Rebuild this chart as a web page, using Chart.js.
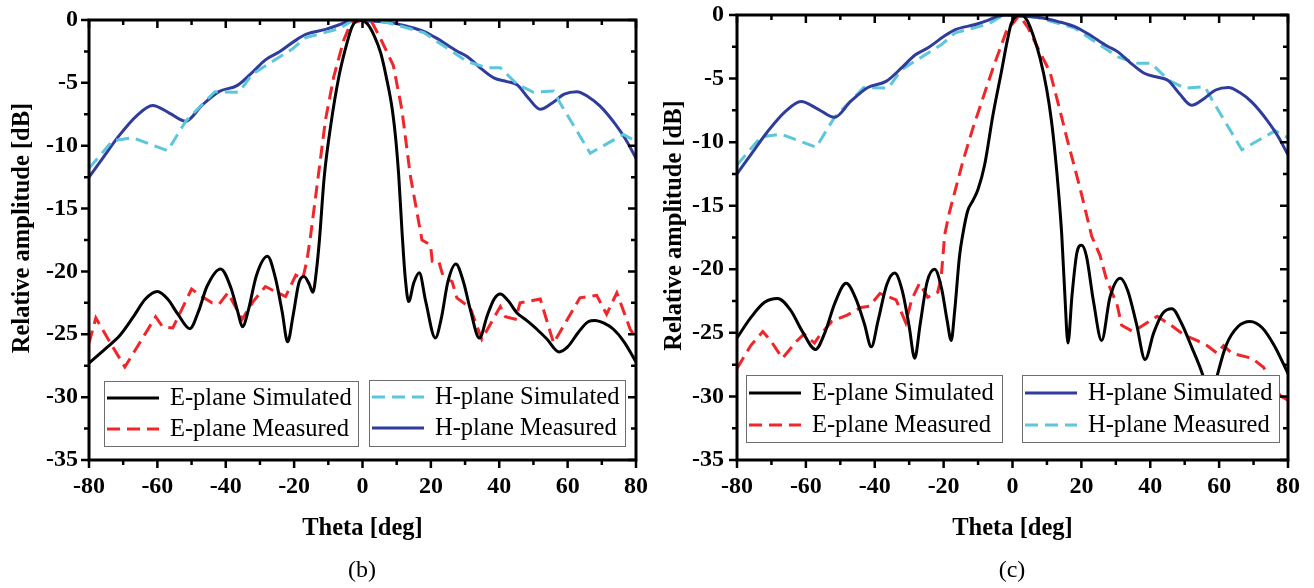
<!DOCTYPE html>
<html>
<head>
<meta charset="utf-8">
<title>E-plane / H-plane radiation patterns</title>
<script src="https://cdn.jsdelivr.net/npm/chart.js@4.4.0/dist/chart.umd.min.js"></script>
<style>
	html, body { margin: 0; padding: 0; background: #fff; }
	#page { position: relative; width: 1314px; height: 588px; overflow: hidden; }
	.panel { position: absolute; top: 0; width: 657px; height: 588px; }
	.caption { position: absolute; top: 555px; width: 60px; line-height: 28px; text-align: center;
		font-family: "Liberation Serif", "Times New Roman", serif; font-size: 24px; color: #000; }
</style>
</head>
<body>
<div id="page">
	<div class="panel" style="left:0"><canvas id="chartB"></canvas></div>
	<div class="panel" style="left:657px"><canvas id="chartC"></canvas></div>
	<div class="caption" style="left:332px">(b)</div>
	<div class="caption" style="left:982px">(c)</div>
</div>
<script>
// dane: [theta (deg), amplituda (dB)]

const thetaTicks = [-80, -60, -40, -20, 0, 20, 40, 60, 80];
const dbTicks = [0, -5, -10, -15, -20, -25, -30, -35];

// (b) E-plane symulacja
const eSimB = [[-80,-27.3],[-75,-26.1],[-71,-25.1],[-67,-23.6],[-63.5,-22.2],[-60,-21.6],[-57,-22.2],[-54,-23.4],[-50.5,-24.55],[-48,-23.2],[-45.5,-21.2],[-41.5,-19.8],[-38.5,-21.3],[-36.5,-23.2],[-35.1,-24.4],[-33.5,-23.2],[-31,-20.3],[-27.8,-18.8],[-25.5,-20.5],[-23.5,-23.2],[-21.9,-25.6],[-20.3,-23.5],[-18.6,-20.9],[-17.1,-20.4],[-15.6,-21.0],[-14.5,-21.65],[-13.5,-20],[-12.6,-17.5],[-11.2,-12.5],[-9.3,-8.4],[-6.9,-4.5],[-5,-2.3],[-3,-0.5],[-0.8,0],[1.4,-0.3],[3.5,-1.3],[5.3,-2.6],[7,-4.6],[8.7,-7.1],[9.8,-9.7],[10.6,-12.4],[11.6,-17],[12.5,-20.5],[13.5,-22.4],[15,-20.9],[16.6,-20.1],[18.5,-22.4],[21.3,-25.3],[23,-23.8],[25,-20.8],[27.3,-19.4],[29.5,-20.8],[31.5,-23],[34.2,-25.3],[36.5,-23.5],[38.5,-22.2],[40.3,-21.8],[42.5,-22.3],[45.2,-23.3],[48,-23.9],[51,-24.6],[54,-25.4],[57.5,-26.4],[60,-26.0],[63,-24.9],[66,-24.0],[68,-23.9],[70.5,-24.1],[73.4,-24.6],[76.5,-25.6],[80,-27.2]];
// (b) E-plane pomiar
const eMeasB = [[-80,-25.7],[-78,-23.7],[-73.5,-25.8],[-69.5,-27.6],[-60.5,-23.6],[-58.5,-24.4],[-55.5,-24.5],[-50,-21.4],[-47,-22.0],[-44,-22.5],[-41.9,-22.6],[-39.4,-21.7],[-35.2,-23.8],[-32,-22.4],[-28.4,-21.2],[-24.8,-21.7],[-22.5,-22.0],[-19.5,-20.3],[-17.5,-20.6],[-16.3,-19.2],[-15.2,-17.2],[-12.7,-11.9],[-10.8,-7.9],[-8.4,-4.5],[-5.5,-1.6],[-3.5,-0.3],[0,0],[2.8,-0.2],[5.3,-1.5],[9,-3.6],[11.5,-7.1],[14,-12.4],[17.4,-17.5],[19.9,-17.9],[20.4,-19.2],[22.3,-19.2],[23.7,-20.5],[26.2,-20.8],[27.6,-22.1],[31.5,-22.9],[34.9,-25.4],[40.3,-22.8],[41.8,-23.6],[44.7,-23.8],[46.1,-22.5],[52,-22.2],[55.9,-25.7],[63.6,-22.1],[68.5,-21.9],[71.4,-23.4],[74.4,-21.7],[78.3,-24.6],[80,-25.3]];
// (c) E-plane symulacja
const eSimC = [[-80,-25.4],[-76,-23.8],[-72,-22.6],[-68.2,-22.3],[-64.5,-23.2],[-61,-24.9],[-57.2,-26.3],[-54.5,-25.0],[-51.5,-22.6],[-48.3,-21.1],[-45.5,-22.3],[-43,-24.3],[-41,-26.1],[-39,-24],[-36.5,-21.2],[-34.2,-20.3],[-32,-21.7],[-30,-24.5],[-28.4,-27.0],[-26.8,-24.3],[-24.8,-21.0],[-22.6,-20.0],[-20.6,-21.5],[-19,-24],[-17.8,-25.6],[-16.8,-23.3],[-15.4,-19.0],[-14.4,-17.2],[-13,-15.4],[-11.5,-14.6],[-10,-13.7],[-8.1,-11.8],[-5.7,-7.9],[-3.25,-4.5],[-1.5,-2.0],[-0.35,-0.65],[1,-0.1],[2.5,0],[4.3,-0.45],[6,-1.6],[8,-3.4],[9.9,-5.8],[11.3,-8.3],[12.4,-11],[13.4,-14],[14.3,-17.3],[15.2,-22],[16.1,-25.8],[17.3,-22],[18.7,-18.7],[20.1,-18.1],[21.5,-19],[23.5,-22.5],[25.9,-25.6],[28.3,-22.2],[31.3,-20.7],[33.5,-21.7],[36,-24.3],[38.5,-27.1],[41,-25],[43.5,-23.5],[46.3,-23.1],[49,-24.2],[52,-26.1],[55.4,-28.45],[57.4,-30.5],[59.4,-28.4],[62,-26],[65.5,-24.5],[69,-24.1],[72.5,-24.6],[76,-26],[80,-28.2]];
// (c) E-plane pomiar
const eMeasC = [[-80,-27.8],[-76,-26.0],[-72.5,-24.9],[-70,-25.7],[-66.8,-27.0],[-62.5,-25.6],[-60.5,-25.1],[-57.5,-25.8],[-56,-25.2],[-52.5,-24.1],[-48,-23.6],[-44,-23.0],[-41.5,-22.9],[-38.5,-21.9],[-33.8,-22.4],[-31,-24.2],[-29.3,-22.4],[-27,-21.1],[-24.6,-22.2],[-21.7,-21.8],[-20.7,-20.6],[-19.7,-17.3],[-18.3,-15.5],[-14.4,-11.5],[-11.5,-8.9],[-5.7,-4.2],[-1.8,-1.3],[2,0],[4.5,-1.0],[7,-2.4],[10.9,-4.5],[13.5,-7.2],[15.8,-9.7],[19.6,-13.6],[23,-17.4],[25.4,-18.9],[27.4,-20.9],[30.3,-22.7],[31.7,-24.4],[35,-24.9],[38.5,-24.3],[42,-23.7],[46,-24.4],[50,-25.2],[53.5,-25.6],[56.5,-26.0],[59.4,-26.6],[61.3,-26.0],[63.7,-26.6],[69.5,-27.0],[72.9,-27.7],[76,-29.3],[78,-30.0],[80,-30.3]];
// H-plane, linia ciągła (granatowa) - ta sama w (b) i (c)
const hSolid = [[-80,-12.5],[-75.5,-10.8],[-71.2,-9.2],[-66,-7.6],[-61.4,-6.8],[-56.5,-7.4],[-51.7,-8.05],[-47,-6.8],[-42,-5.7],[-36.6,-5.2],[-32,-4.1],[-28.3,-3.15],[-24.4,-2.55],[-20,-1.7],[-16.6,-1.15],[-10.8,-0.75],[-7,-0.4],[-4,-0.08],[-1,0],[1.4,-0.08],[5,-0.12],[9.1,-0.25],[13,-0.5],[17.9,-0.9],[22,-1.5],[27.6,-2.46],[30.6,-2.9],[34,-3.7],[38.4,-4.6],[42.2,-4.9],[45.2,-5.15],[48.5,-6.2],[52,-7.1],[55.5,-6.6],[59,-5.9],[62.7,-5.7],[66,-6.1],[69.5,-6.85],[74,-8.3],[77,-9.5],[80,-11.0]];
// H-plane, linia przerywana (błękitna) - ta sama w (b) i (c)
const hDashed = [[-80,-11.8],[-73.1,-9.6],[-67.2,-9.37],[-57,-10.4],[-51.7,-8.05],[-43.2,-5.7],[-36.1,-5.75],[-32.2,-4.3],[-20.5,-2.3],[-16.6,-1.4],[-6.9,-0.7],[-3,-0.05],[0,0],[7.2,-0.2],[17.9,-1.0],[30.6,-3.3],[36.4,-3.8],[40.3,-3.8],[45.2,-5.1],[50,-5.75],[55.9,-5.65],[57.8,-6.6],[66.6,-10.6],[76.3,-9.1],[80,-9.65]];

const SERIF = '"Liberation Serif", "Times New Roman", serif';
const colors = { black: '#000000', red: '#f0262b', cyan: '#5cc6da', blue: '#2f3c9c' };

function pts (arr) {
	return arr.map(p => ({ x: p[0], y: p[1] }));
}
function solid (label, arr, color) {
	return { label: label, data: pts(arr), borderColor: color, borderWidth: 3, cubicInterpolationMode: 'monotone', pointRadius: 0 };
}
function dashed (label, arr, color) {
	return { label: label, data: pts(arr), borderColor: color, borderWidth: 3, borderDash: [13, 7], tension: 0, pointRadius: 0 };
}

// legenda w ramkach + ramka wykresu z podziałką + tytuł osi Y
const framePlugin = {
	id: 'frameLegend',
	afterDatasetsDraw (chart, args, opts) {
		const { ctx, chartArea: a, scales: { x, y } } = chart;
		ctx.save();
		opts.boxes.forEach(b => {
			const bx = a.left + b.x, by = a.top + b.y;
			ctx.fillStyle = '#fff';
			ctx.fillRect(bx, by, b.w, b.h);
			ctx.strokeStyle = '#6e6e6e';
			ctx.lineWidth = 1;
			ctx.strokeRect(Math.round(bx) + 0.5, Math.round(by) + 0.5, b.w, b.h);
			b.items.forEach((di, i) => {
				const ds = chart.data.datasets[di];
				const ry = by + opts.rowY[i];
				ctx.beginPath();
				ctx.setLineDash(ds.borderDash || []);
				ctx.strokeStyle = ds.borderColor;
				ctx.lineWidth = ds.borderWidth;
				ctx.moveTo(bx + 3, ry);
				ctx.lineTo(bx + 55, ry);
				ctx.stroke();
				ctx.setLineDash([]);
				ctx.fillStyle = '#000';
				ctx.font = '24.5px ' + SERIF;
				ctx.textBaseline = 'middle';
				ctx.fillText(ds.label, bx + opts.textX, ry + 1);
			});
		});
		ctx.strokeStyle = '#000';
		ctx.lineWidth = 2.5;
		ctx.beginPath();
		for (let i = 0; i < thetaTicks.length; i++) {
			const vals = [thetaTicks[i]];
			if (i < thetaTicks.length - 1) vals.push((thetaTicks[i] + thetaTicks[i + 1]) / 2);
			vals.forEach((v, k) => {
				const px = x.getPixelForValue(v), len = k === 0 ? 8 : 5;
				ctx.moveTo(px, a.bottom); ctx.lineTo(px, a.bottom + len);
				ctx.moveTo(px, a.top); ctx.lineTo(px, a.top + len);
			});
		}
		for (let i = 0; i < dbTicks.length; i++) {
			const vals = [dbTicks[i]];
			if (i < dbTicks.length - 1) vals.push((dbTicks[i] + dbTicks[i + 1]) / 2);
			vals.forEach((v, k) => {
				const py = y.getPixelForValue(v), len = k === 0 ? 8 : 5;
				ctx.moveTo(a.left, py); ctx.lineTo(a.left - len, py);
				ctx.moveTo(a.right, py); ctx.lineTo(a.right - len, py);
			});
		}
		ctx.stroke();
		ctx.lineWidth = 3;
		ctx.strokeRect(a.left, a.top, a.right - a.left, a.bottom - a.top);

		// tytuł osi Y (w oryginale lekko powyżej środka osi)
		ctx.translate(opts.yTitleX, (a.top + a.bottom) / 2 + opts.yTitleShift);
		ctx.rotate(-Math.PI / 2);
		ctx.fillStyle = '#000';
		ctx.font = 'bold 24.5px ' + SERIF;
		ctx.textAlign = 'center';
		ctx.textBaseline = 'middle';
		ctx.fillText('Relative amplitude [dB]', 0, 0);
		ctx.restore();
	}
};

function makeChart (id, datasets, lay) {
	return new Chart(document.getElementById(id), {
		type: 'line',
		data: { datasets: datasets },
		plugins: [framePlugin],
		options: {
			responsive: true,
			maintainAspectRatio: false,
			animation: false,
			layout: { padding: { left: 0, top: lay.top, right: lay.right, bottom: 0 } },
			plugins: {
				legend: { display: false },
				tooltip: { enabled: false },
				frameLegend: { boxes: lay.boxes, rowY: lay.rowY, textX: lay.textX, yTitleX: lay.yTitleX, yTitleShift: -12 }
			},
			scales: {
				x: {
					type: 'linear', min: -80, max: 80,
					grid: { display: false, drawTicks: false },
					border: { display: false },
					afterBuildTicks: s => { s.ticks = thetaTicks.map(v => ({ value: v })); },
					afterFit: s => { s.height = 588 - 460; s.paddingLeft = 0; s.paddingRight = 0; },
					ticks: { padding: 12, color: '#000', font: { family: SERIF, size: 24, weight: 'bold' } },
					title: { display: true, text: 'Theta [deg]', color: '#000', padding: { top: 0, bottom: 45 },
						font: { family: SERIF, size: 24.5, weight: 'bold' } }
				},
				y: {
					type: 'linear', min: -35, max: 0,
					grid: { display: false, drawTicks: false },
					border: { display: false },
					afterBuildTicks: s => { s.ticks = dbTicks.map(v => ({ value: v })); },
					afterFit: s => { s.width = lay.yWidth; s.paddingTop = 0; s.paddingBottom = 0; },
					ticks: { padding: lay.yPad, color: '#000', font: { family: SERIF, size: 24, weight: 'bold' } }
				}
			}
		}
	});
}

// (b)
makeChart('chartB', [
	solid('E-plane Simulated', eSimB, colors.black),
	dashed('E-plane Measured', eMeasB, colors.red),
	dashed('H-plane Simulated', hDashed, colors.cyan),
	solid('H-plane Measured', hSolid, colors.blue)
], {
	top: 20, right: 21, yWidth: 89, yPad: 11, yTitleX: 23,
	boxes: [{ x: 15, y: 361, w: 254, h: 65, items: [0, 1] }, { x: 280, y: 360, w: 256, h: 66, items: [2, 3] }],
	rowY: [17, 48], textX: 66
});

// (c)
makeChart('chartC', [
	solid('E-plane Simulated', eSimC, colors.black),
	dashed('E-plane Measured', eMeasC, colors.red),
	solid('H-plane Simulated', hSolid, colors.blue),
	dashed('H-plane Measured', hDashed, colors.cyan)
], {
	top: 15, right: 26, yWidth: 80, yPad: 13, yTitleX: 18,
	boxes: [{ x: 9, y: 360, w: 256, h: 67, items: [0, 1] }, { x: 285, y: 360, w: 257, h: 67, items: [2, 3] }],
	rowY: [18, 50], textX: 66
});
</script>
</body>
</html>
